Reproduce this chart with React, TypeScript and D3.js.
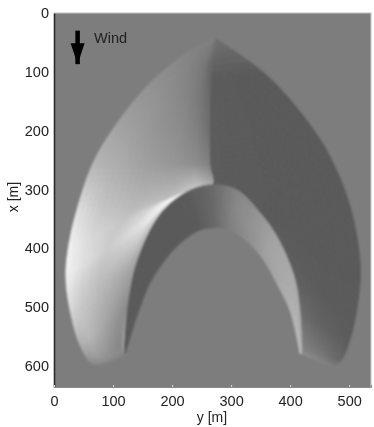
import React from "react";
import * as d3 from "d3";

type Pt = [number, number]; // [y metres, x metres]

const yTicks = [0, 100, 200, 300, 400, 500];
const xTicks = [0, 100, 200, 300, 400, 500, 600];
const yDomain = [0, 537];
const xDomain = [0, 636];
const backgroundGray = 125;
const windArrow: Pt[] = [[40, 30], [40, 87]];

// windward (stoss) slope: outer foot, inner ridge / crest, grey from foot to crest
const windOuter: Pt[] = [[273, 43], [225, 68], [163, 119], [107, 187], [66, 255], [36, 344], [24, 400], [20, 444], [25, 495], [44, 565], [66, 597], [95, 594], [120, 583]];
const windInner: Pt[] = [[273, 43], [266, 92], [263, 148], [263, 204], [264, 258], [268, 292], [225, 304], [180, 342], [141, 422], [125, 500], [120, 556], [120, 572], [120, 583]];
const windColumns = [0, 0.2, 0.45, 0.7, 0.88, 1];
const windGrays = [
  [128, 128, 128, 128, 128, 128],
  [134, 132, 128, 122, 112, 100],
  [146, 144, 138, 130, 118, 105],
  [162, 158, 148, 140, 128, 112],
  [182, 174, 160, 150, 142, 130],
  [228, 198, 182, 185, 205, 170],
  [245, 218, 200, 215, 252, 250],
  [245, 225, 205, 222, 235, 205],
  [225, 205, 190, 180, 172, 165],
  [175, 185, 170, 155, 145, 140],
  [135, 150, 150, 140, 135, 170],
  [128, 135, 140, 140, 140, 190],
  [128, 128, 128, 128, 128, 128],
];

// right flank in the lee of the ridge
const leeOuter: Pt[] = [[273, 43], [356, 102], [424, 177], [468, 245], [502, 330], [519, 432], [512, 510], [500, 560], [487, 590], [471, 600], [417, 580]];
const leeInner: Pt[] = [[273, 43], [266, 110], [264, 190], [265, 265], [268, 292], [349, 340], [407, 449], [417, 512], [420, 575], [420, 578], [417, 580]];
const leeColumns = [0, 0.5, 1];
const leeGrays = [
  [118, 118, 118],
  [90, 90, 92],
  [90, 90, 92],
  [90, 90, 92],
  [90, 90, 92],
  [90, 90, 90],
  [91, 91, 95],
  [92, 97, 108],
  [100, 120, 135],
  [125, 135, 140],
  [128, 138, 140],
];

// slip face band under the crest
const slipCrest: Pt[] = [[120, 565], [125, 500], [141, 422], [180, 342], [225, 304], [268, 292], [310, 301], [349, 340], [378, 381], [407, 449], [417, 512], [420, 575]];
const slipFoot: Pt[] = [[120, 580], [146, 500], [165, 455], [205, 400], [245, 370], [273, 365], [300, 370], [332, 393], [355, 420], [380, 465], [400, 507], [417, 580]];
const slipColumns = [0, 0.5, 1];
const slipGrays = [
  [90, 90, 90],
  [90, 90, 90],
  [90, 90, 90],
  [90, 90, 90],
  [90, 90, 90],
  [105, 105, 105],
  [135, 135, 130],
  [150, 150, 145],
  [165, 165, 160],
  [172, 172, 170],
  [175, 180, 178],
  [150, 190, 190],
];

const width = 374;
const height = 427;
const plot = { left: 54, top: 13, right: 371, bottom: 387 };

const yScale = d3.scaleLinear().domain(yDomain).range([plot.left, plot.right]);
const xScale = d3.scaleLinear().domain(xDomain).range([plot.top, plot.bottom]);

// centripetal Catmull-Rom so uneven spacing of the stations makes no kinks
function curvePoint(pts: Pt[], i: number, t: number): Pt {
  const p0 = pts[Math.max(i - 1, 0)];
  const p1 = pts[i];
  const p2 = pts[i + 1];
  const p3 = pts[Math.min(i + 2, pts.length - 1)];
  const gap = (a: Pt, b: Pt) => Math.max(Math.sqrt(Math.hypot(a[0] - b[0], a[1] - b[1])), 1e-3);
  const t1 = gap(p0, p1);
  const t2 = t1 + gap(p1, p2);
  const t3 = t2 + gap(p2, p3);
  const tt = t1 + (t2 - t1) * t;
  const mix = (a: Pt, b: Pt, ta: number, tb: number): Pt => {
    const w = (tt - ta) / (tb - ta);
    return [a[0] + (b[0] - a[0]) * w, a[1] + (b[1] - a[1]) * w];
  };
  const a1 = mix(p0, p1, 0, t1);
  const a2 = mix(p1, p2, t1, t2);
  const a3 = mix(p2, p3, t2, t3);
  const b1 = mix(a1, a2, 0, t2);
  const b2 = mix(a2, a3, t1, t3);
  return mix(b1, b2, t1, t2);
}

// shaded quads between two boundary curves
function buildMesh(outer: Pt[], inner: Pt[], cols: number[], grays: number[][]) {
  const quads: { d: string; fill: string }[] = [];
  const subS = 8;
  const subU = 5;
  const o = outer.map((p): Pt => [yScale(p[0]), xScale(p[1])]);
  const n = inner.map((p): Pt => [yScale(p[0]), xScale(p[1])]);
  const point = (i: number, t: number, u: number): Pt => {
    const a = curvePoint(o, i, t);
    const b = curvePoint(n, i, t);
    return [a[0] + (b[0] - a[0]) * u, a[1] + (b[1] - a[1]) * u];
  };
  const us = cols.slice(0, -1).flatMap((c, k) => d3.range(subU).map((j) => c + ((cols[k + 1] - c) * j) / subU));
  us.push(1);
  const grayAt = (i: number, t: number, u: number) => {
    let k = d3.bisectRight(cols, u) - 1;
    k = Math.min(k, cols.length - 2);
    const w = (u - cols[k]) / (cols[k + 1] - cols[k]);
    const a = grays[i][k] + (grays[i + 1][k] - grays[i][k]) * t;
    const b = grays[i][k + 1] + (grays[i + 1][k + 1] - grays[i][k + 1]) * t;
    return a + (b - a) * w;
  };
  for (let i = 0; i < outer.length - 1; i++) {
    for (let s = 0; s < subS; s++) {
      const t0 = s / subS;
      const t1 = (s + 1) / subS;
      for (let j = 0; j < us.length - 1; j++) {
        const q = [point(i, t0, us[j]), point(i, t1, us[j]), point(i, t1, us[j + 1]), point(i, t0, us[j + 1])];
        const g = Math.round(grayAt(i, (t0 + t1) / 2, (us[j] + us[j + 1]) / 2));
        quads.push({ d: d3.line()(q) + "Z", fill: d3.rgb(g, g, g).formatHex() });
      }
    }
  }
  return quads;
}

const meshes = [
  buildMesh(leeOuter, leeInner, leeColumns, leeGrays),
  buildMesh(windOuter, windInner, windColumns, windGrays),
  buildMesh(slipCrest, slipFoot, slipColumns, slipGrays),
];

export default function App() {
  const leftRef = React.useRef<SVGGElement>(null);
  const bottomRef = React.useRef<SVGGElement>(null);

  React.useEffect(() => {
    const left = d3.select(leftRef.current!);
    left.call(d3.axisLeft(xScale).tickValues(xTicks).tickSize(0).tickPadding(5) as any);
    left.select(".domain").attr("stroke", "#2a2a2a").attr("stroke-width", 1.6);
    const bottom = d3.select(bottomRef.current!);
    bottom.call(d3.axisBottom(yScale).tickValues(yTicks).tickSize(-2).tickPadding(9) as any);
    bottom.select(".domain").attr("stroke", "#8a8a8a");
    bottom.selectAll(".tick line").attr("stroke", "#d8d8d8");
    for (const g of [left, bottom]) {
      g.selectAll("text")
        .attr("fill", "#222")
        .style("font-family", "'Liberation Sans', Arial, sans-serif")
        .style("font-size", "14.5px");
    }
  }, []);

  const shaft = d3.line()(windArrow.map((p) => [yScale(p[0]), xScale(p[1])] as [number, number])) as string;
  const ax = yScale(windArrow[1][0]);
  const tip = xScale(windArrow[1][1]);

  return (
    <svg
      width={width}
      height={height}
      style={{ position: "absolute", left: 0, top: 0, background: "#fff" }}
      fontFamily="'Liberation Sans', Arial, sans-serif"
    >
      <defs>
        <clipPath id="plot-area">
          <rect x={plot.left} y={plot.top} width={plot.right - plot.left} height={plot.bottom - plot.top} />
        </clipPath>
        <filter id="soft" x="-5%" y="-5%" width="110%" height="110%">
          <feGaussianBlur stdDeviation="0.9" />
        </filter>
        <filter id="soft-text" x="-10%" y="-10%" width="120%" height="120%">
          <feGaussianBlur stdDeviation="0.3" />
        </filter>
      </defs>
      <rect
        x={plot.left}
        y={plot.top}
        width={plot.right - plot.left}
        height={plot.bottom - plot.top}
        fill={d3.rgb(backgroundGray, backgroundGray, backgroundGray).formatHex()}
      />
      <g clipPath="url(#plot-area)">
        <g filter="url(#soft)">
          {meshes.map((quads, m) => (
            <g key={m}>
              {quads.map((q, i) => (
                <path key={i} d={q.d} fill={q.fill} stroke={q.fill} strokeWidth={0.6} />
              ))}
            </g>
          ))}
        </g>
      </g>
      <path d={`M${plot.left},${plot.top}H${plot.right}V${plot.bottom}`} fill="none" stroke="#c4c4c4" strokeWidth={1.2} />
      <g filter="url(#soft-text)">
        <g ref={leftRef} transform={`translate(${plot.left},0)`} />
        <g ref={bottomRef} transform={`translate(0,${plot.bottom})`} />
        <path d={shaft} stroke="#000" strokeWidth={4.5} fill="none" />
        <path d={`M${ax - 7},${tip - 21}L${ax},${tip}L${ax + 7},${tip - 21}Z`} fill="#000" />
        <text x={94} y={43} fontSize={14.5} fill="#222">Wind</text>
        <text transform="translate(18,197) rotate(-90)" textAnchor="middle" fontSize={14} fill="#222">x [m]</text>
        <text x={212} y={422} textAnchor="middle" fontSize={14} fill="#222">y [m]</text>
      </g>
    </svg>
  );
}
